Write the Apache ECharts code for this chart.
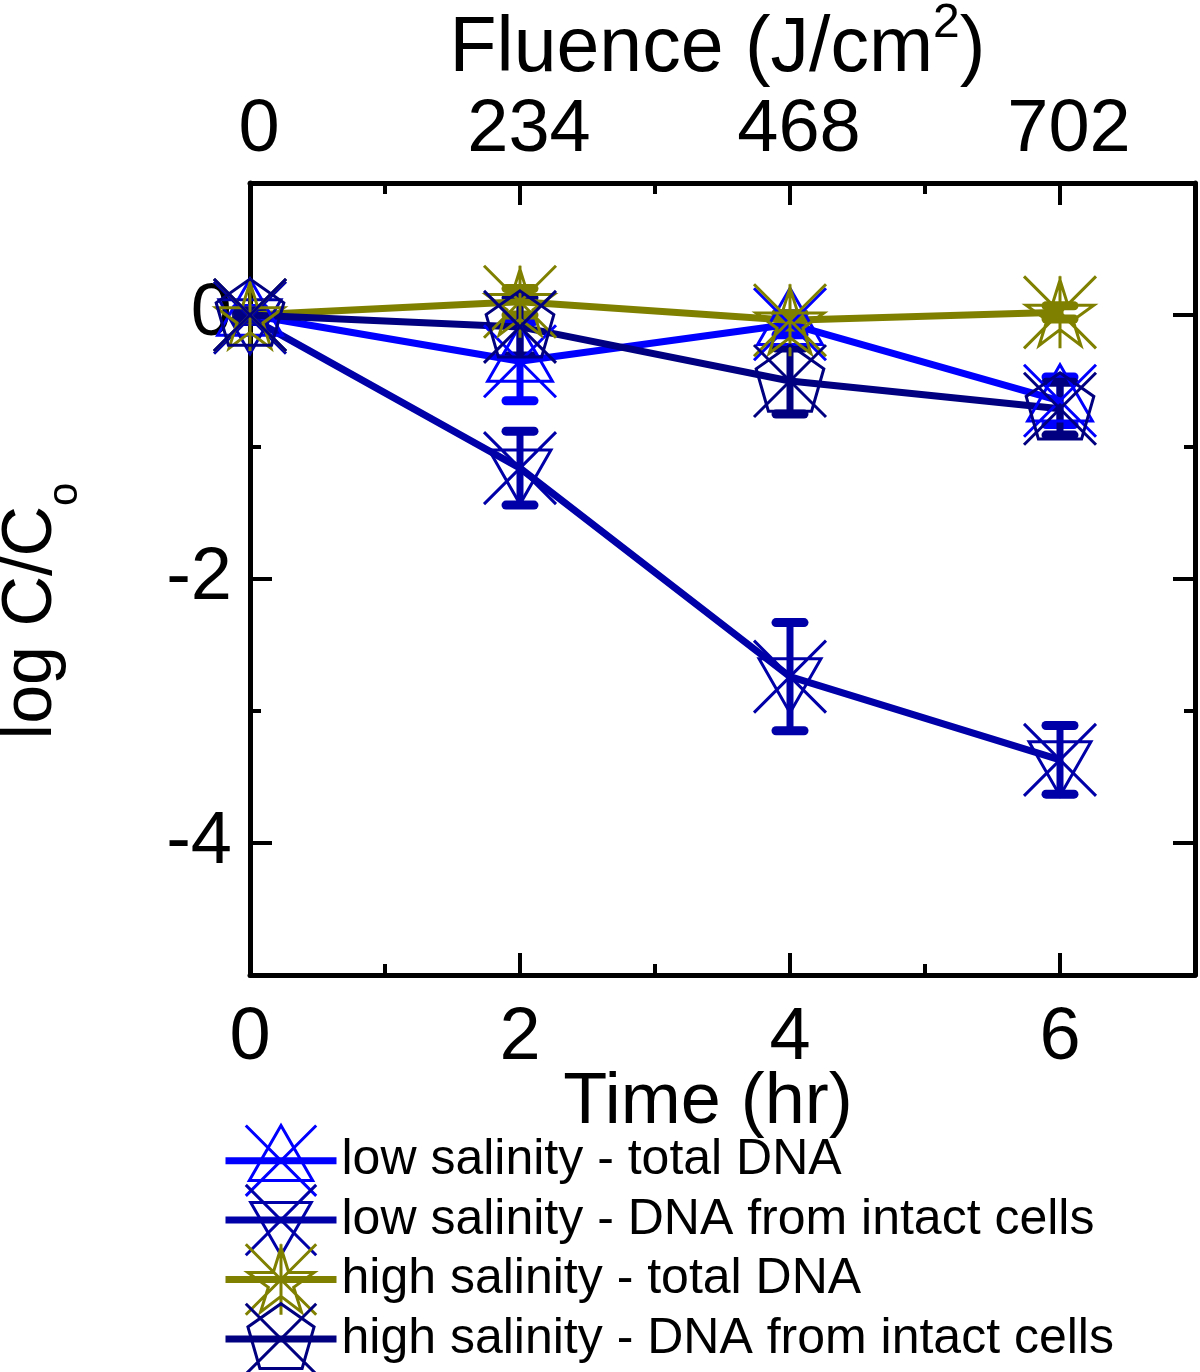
<!DOCTYPE html>
<html>
<head>
<meta charset="utf-8">
<script src="https://cdn.jsdelivr.net/npm/echarts@6/dist/echarts.min.js"></script>
<style>
html,body{margin:0;padding:0;background:#fff;}
#chart{width:1200px;height:1372px;}
</style>
</head>
<body>
<div id="chart"></div>
<script>
// ---- data ----
const timeHr = [0, 2, 4, 6];
const fluenceTicks = ['0', '234', '468', '702'];
const yMajorTicks = [-4, -2, 0];
const yMinorTicks = [-3, -1];
const xMinorTicks = [1, 3, 5];

const seriesNames = [
  'low salinity - total DNA',
  'low salinity - DNA from intact cells',
  'high salinity - total DNA',
  'high salinity - DNA from intact cells'
];
const lowTotal = [0, -0.35, -0.07, -0.65];
const lowTotalErr = [0.05, 0.3, 0.08, 0.18];
const lowIntact = [-0.02, -1.16, -2.74, -3.37];
const lowIntactErr = [0.03, 0.28, 0.41, 0.26];
const highTotal = [0, 0.1, -0.04, 0.02];
const highTotalErr = [0.03, 0.1, 0.05, 0.05];
const highIntact = [0, -0.09, -0.5, -0.71];
const highIntactErr = [0.03, 0.22, 0.25, 0.2];

// ---- styles ----
const FONT = "'Liberation Sans', Arial, sans-serif";
const colors = ['#0000ff', '#0000a8', '#808000', '#000080'];
const symX = 'M0,0L100,100M100,0L0,100';
const symbols = [
  'path://' + symX + 'M50,0L95,78L5,78Z',
  'path://' + symX + 'M7,25L93,25L50,100Z',
  'path://M0,0L100,100M100,0L0,100M50,0L50,100' +
    'M50,5L61,40L97,40L68,61L79,96L50,74L21,96L32,61L3,40L39,40Z',
  'path://' + symX + 'M50,0L97,33L80,92L20,92L3,33Z'
];
const values = [lowTotal, lowIntact, highTotal, highIntact];
const errs = [lowTotalErr, lowIntactErr, highTotalErr, highIntactErr];

const series = [];
values.forEach((ys, k) => {
  const c = colors[k];
  series.push({
    type: 'custom',
    name: 'err' + k,
    xAxisIndex: 0, yAxisIndex: 0,
    data: timeHr.map((t, i) => [t, ys[i], errs[k][i]]),
    encode: {x: 0, y: 1},
    clip: false,
    z: 2,
    renderItem: function (params, api) {
      const x = api.value(0), y = api.value(1), e = api.value(2);
      const p1 = api.coord([x, y + e]);
      const p2 = api.coord([x, y - e]);
      const cw = 14;
      return {
        type: 'group',
        children: [
          {type: 'line', shape: {x1: p1[0], y1: p1[1], x2: p2[0], y2: p2[1]},
           style: {stroke: c, lineWidth: 7}},
          {type: 'line', shape: {x1: p1[0] - cw, y1: p1[1], x2: p1[0] + cw, y2: p1[1]},
           style: {stroke: c, lineWidth: 9, lineCap: 'round'}},
          {type: 'line', shape: {x1: p2[0] - cw, y1: p2[1], x2: p2[0] + cw, y2: p2[1]},
           style: {stroke: c, lineWidth: 9, lineCap: 'round'}}
        ]
      };
    }
  });
});
values.forEach((ys, k) => {
  const c = colors[k];
  series.push({
    type: 'line',
    name: seriesNames[k],
    xAxisIndex: 0, yAxisIndex: 0,
    data: timeHr.map((t, i) => [t, ys[i]]),
    symbol: symbols[k],
    symbolSize: 72,
    showAllSymbol: true,
    clip: false,
    z: 3,
    lineStyle: {color: c, width: 7},
    itemStyle: {color: 'rgba(0,0,0,0)', borderColor: c, borderWidth: 3}
  });
});

const tickLine = {color: '#000', width: 4};
const axLine = {show: true, onZero: false, lineStyle: {color: '#000', width: 5}};
const lbl = {color: '#000', fontFamily: FONT, fontSize: 74};

function xAx(pos, major, extra) {
  return Object.assign({
    type: 'value', position: pos, min: 0, max: 7,
    nameMoveOverlap: false,
    axisLine: major ? axLine : {show: false, onZero: false},
    axisTick: {show: true, inside: true, length: major ? 22 : 11, lineStyle: tickLine,
               customValues: major ? timeHr : xMinorTicks},
    axisLabel: {show: false},
    splitLine: {show: false}
  }, extra || {});
}
function yAx(pos, major, extra) {
  return Object.assign({
    type: 'value', position: pos, min: -5, max: 1,
    nameMoveOverlap: false,
    axisLine: major ? axLine : {show: false, onZero: false},
    axisTick: {show: true, inside: true, length: major ? 22 : 11, lineStyle: tickLine,
               customValues: major ? yMajorTicks : yMinorTicks},
    axisLabel: {show: false},
    splitLine: {show: false}
  }, extra || {});
}

const option = {
  animation: false,
  backgroundColor: '#fff',
  grid: {left: 250, right: 5, top: 183, bottom: 397, outerBoundsMode: 'none', containLabel: false},
  xAxis: [
    xAx('bottom', true, {
      axisLabel: Object.assign({show: true, margin: 27, customValues: timeHr}, lbl),
      name: 'Time (hr)', nameLocation: 'middle', nameGap: 92,
      nameTextStyle: {color: '#000', fontFamily: FONT, fontSize: 72, padding: [0, 29, 0, 0]}
    }),
    xAx('bottom', false),
    xAx('top', true, {
      axisLabel: Object.assign({show: true, margin: 15, customValues: timeHr,
        padding: [0, 0, 0, 18],
        formatter: v => fluenceTicks[timeHr.indexOf(v)] || ''}, lbl),
      name: '{a|Fluence (J/cm}{s|2}{a|)}', nameLocation: 'middle', nameGap: 95,
      nameTextStyle: {color: '#000', fontFamily: FONT, padding: [0, 10, 0, 0],
        rich: {
          a: {fontSize: 77, fontFamily: FONT, color: '#000', verticalAlign: 'bottom'},
          s: {fontSize: 48, fontFamily: FONT, color: '#000', verticalAlign: 'top', padding: [0, 0, 40, 0]}
        }}
    }),
    xAx('top', false)
  ],
  yAxis: [
    yAx('left', true, {
      axisLabel: Object.assign({show: true, margin: 18, customValues: yMajorTicks}, lbl),
      name: '{a|log C/C}{s|o}', nameLocation: 'middle', nameGap: 164,
      nameTextStyle: {color: '#000', fontFamily: FONT, padding: [0, 64, 0, 0],
        rich: {
          a: {fontSize: 70, fontFamily: FONT, color: '#000', verticalAlign: 'top'},
          s: {fontSize: 42, fontFamily: FONT, color: '#000', verticalAlign: 'top', padding: [47, 0, 0, 0]}
        }}
    }),
    yAx('left', false),
    yAx('right', true),
    yAx('right', false)
  ],
  legend: {
    orient: 'vertical',
    left: 222, top: 1124, height: 320, width: 950,
    padding: 0,
    itemWidth: 111, itemHeight: 88, itemGap: -14,
    data: seriesNames,
    textStyle: {color: '#000', fontFamily: FONT, fontSize: 50},
    itemStyle: {borderWidth: 3},
    lineStyle: {width: 7},
    selectedMode: false
  },
  series: series
};

const chart = echarts.init(document.getElementById('chart'), null, {renderer: 'canvas'});
chart.setOption(option);
</script>
</body>
</html>
